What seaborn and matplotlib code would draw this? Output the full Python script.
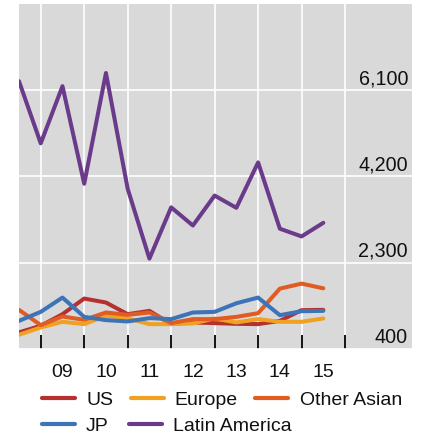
import matplotlib
matplotlib.use("Agg")
import matplotlib.pyplot as plt
from matplotlib import transforms
import pandas as pd
import seaborn as sns

# Half-year observations, mid-2008 to mid-2015
periods = [2008.5, 2009.0, 2009.5, 2010.0, 2010.5, 2011.0, 2011.5, 2012.0,
           2012.5, 2013.0, 2013.5, 2014.0, 2014.5, 2015.0, 2015.5]

us = [766, 911, 1167, 1511, 1424, 1167, 1240, 948, 985, 970, 955, 948, 1020, 1255, 1262]
europe = [714, 875, 999, 948, 1130, 1073, 948, 948, 963, 1073, 985, 1058, 999, 999, 1073]
other_asian = [1262, 926, 1116, 1043, 1204, 1152, 1204, 970, 1058, 1058, 1108, 1189, 1730, 1840, 1737]
jp = [1020, 1218, 1533, 1108, 1036, 1007, 1080, 1058, 1204, 1218, 1408, 1533, 1145, 1233, 1240]
latin_america = [6300, 4930, 6190, 4040, 6480, 3930, 2390, 3520, 3120, 3780, 3510, 4510, 3050, 2880, 3180]

series_names = ["US", "Europe", "Other Asian", "JP", "Latin America"]
series_colors = ["#b5312f", "#f0a124", "#e05c22", "#3d74b7", "#6a3b8b"]

y_ticks = [400, 2300, 4200, 6100]
y_tick_labels = ["400", "2,300", "4,200", "6,100"]
year_bounds = [2009, 2010, 2011, 2012, 2013, 2014, 2015, 2016]
year_centers = [2009.5, 2010.5, 2011.5, 2012.5, 2013.5, 2014.5, 2015.5]
year_labels = ["09", "10", "11", "12", "13", "14", "15"]

frames = []
for name, vals in zip(series_names, [us, europe, other_asian, jp, latin_america]):
    frames.append(pd.DataFrame({"period": periods, "value": vals, "series": name}))
df = pd.concat(frames, ignore_index=True)

sns.set_theme(style="white")
plt.rcParams["font.family"] = ["Liberation Sans", "DejaVu Sans"]

fig = plt.figure(figsize=(4.24, 4.40), dpi=100)
ax = fig.add_axes([19 / 424, 1 - 349 / 440, (412 - 19) / 424, (349 - 4) / 440])
ax.set_facecolor("#d9d9d9")

sns.lineplot(data=df, x="period", y="value", hue="series", hue_order=series_names,
             palette=series_colors, linewidth=2.9, ax=ax, legend=True)

ax.set_xlim(2008.5, 2017.54)
ax.set_ylim(400, 8000)

# Gridlines: horizontal at value ticks, vertical at year boundaries
ax.set_yticks(y_ticks)
ax.set_yticklabels([])
ax.set_xticks(year_bounds)
ax.set_xticklabels([])
ax.set_xticks(year_centers, minor=True)
ax.set_xticklabels(year_labels, minor=True)
ax.grid(True, which="major", color="white", linewidth=1.2)
ax.set_axisbelow(True)
ax.tick_params(axis="x", which="major", direction="in", length=10, width=1.3,
               color="black", bottom=True)
ax.tick_params(axis="x", which="minor", length=0, pad=11, labelsize=14,
               labelcolor="#111111")
ax.tick_params(axis="y", length=0)
for s in ax.spines.values():
    s.set_visible(False)
ax.set_xlabel("")
ax.set_ylabel("")

# Value labels inside the plot, just above each gridline on the right
label_tf = transforms.offset_copy(ax.get_yaxis_transform(), fig=fig, y=6, units="dots")
for v, lab in zip(y_ticks, y_tick_labels):
    ax.text(0.99, v, lab, transform=label_tf, ha="right", va="baseline",
            fontsize=14.2, color="#111111")

handles, labels = ax.get_legend_handles_labels()
ax.get_legend().remove()
hmap = dict(zip(labels, handles))

common = dict(frameon=False, fontsize=14, handlelength=1.7, handletextpad=0.57,
              borderpad=0, borderaxespad=0, loc="upper left")
leg1 = fig.legend([hmap[n] for n in ["US", "Europe", "Other Asian"]],
                  ["US", "Europe", "Other Asian"], ncol=3, columnspacing=0.9,
                  bbox_to_anchor=(42 / 424, 1 - 391 / 440), **common)
leg2 = fig.legend([hmap[n] for n in ["JP", "Latin America"]],
                  ["JP", "Latin America"], ncol=2, columnspacing=1.04,
                  bbox_to_anchor=(42 / 424, 1 - 417 / 440), **common)
for leg in (leg1, leg2):
    for line in leg.get_lines():
        line.set_linewidth(3.0)
    for t in leg.get_texts():
        t.set_color("#111111")

fig.savefig("out.png", dpi=100, facecolor="white")
